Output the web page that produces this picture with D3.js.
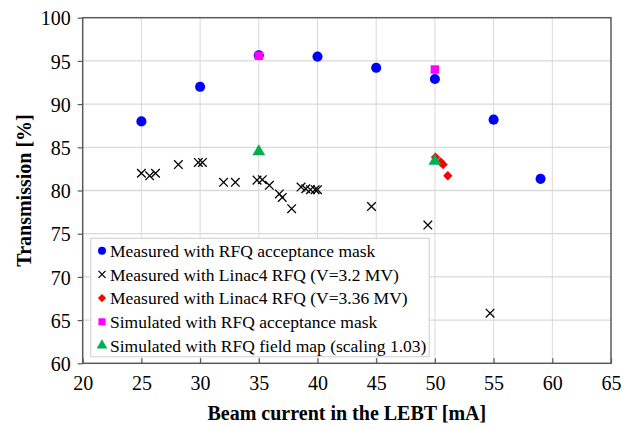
<!DOCTYPE html>
<html>
<head>
<meta charset="utf-8">
<script src="https://cdn.jsdelivr.net/npm/d3@7"></script>
<style>
  body { margin: 0; background: #fff; }
  svg { display: block; font-family: "Liberation Serif", "Times New Roman", serif; }
</style>
</head>
<body>
<div id="chart"></div>
<script>
// ── data ─────────────────────────────────────────────
const maskMeasured = [
  [25, 88.0], [30, 92.0], [35, 95.65], [40, 95.5], [45, 94.2],
  [50, 92.9], [55, 88.2], [59, 81.35]
];
const linac32 = [
  [25.0, 82.0], [25.7, 81.7], [26.2, 82.0], [28.15, 83.0], [29.85, 83.25], [30.2, 83.25],
  [32.0, 80.95], [33.0, 80.95], [34.85, 81.2], [35.3, 81.25], [35.9, 80.6],
  [36.75, 79.6], [37.0, 79.2], [37.8, 77.9], [38.6, 80.4], [39.0, 80.2],
  [39.4, 80.1], [39.8, 80.1], [40.0, 80.1], [44.6, 78.15], [49.4, 76.0], [54.7, 65.8]
];
const linac336 = [[50.05, 83.85], [50.5, 83.3], [50.7, 83.0], [51.1, 81.7]];
const maskSimulated = [[35, 95.6], [50, 94.0]];
const fieldMapSimulated = [[35, 84.5], [50, 83.4]];

const xTicks = [20, 25, 30, 35, 40, 45, 50, 55, 60, 65];
const yTicks = [60, 65, 70, 75, 80, 85, 90, 95, 100];

const legendLabels = [
  'Measured with RFQ acceptance mask',
  'Measured with Linac4 RFQ (V=3.2 MV)',
  'Measured with Linac4 RFQ (V=3.36 MV)',
  'Simulated with RFQ acceptance mask',
  'Simulated with RFQ field map (scaling 1.03)'
];

// ── layout ───────────────────────────────────────────
const W = 630, H = 429;
const m = { l: 82.7, r: 630 - 611, t: 17.7, b: 429 - 363.3 };
const pw = W - m.l - m.r, ph = H - m.t - m.b;

const svg = d3.select('#chart').append('svg').attr('width', W).attr('height', H);
const g = svg.append('g').attr('transform', `translate(${m.l},${m.t})`);

const x = d3.scaleLinear().domain([20, 65]).range([0, pw]);
const y = d3.scaleLinear().domain([60, 100]).range([ph, 0]);

// Grid
g.append('g').selectAll('line').data(xTicks.slice(1, -1)).join('line')
  .attr('x1', d => x(d)).attr('x2', d => x(d)).attr('y1', 0).attr('y2', ph)
  .attr('stroke', '#d9d9d9').attr('stroke-width', 1);
g.append('g').selectAll('line').data(yTicks.slice(1, -1)).join('line')
  .attr('y1', d => y(d)).attr('y2', d => y(d)).attr('x1', 0).attr('x2', pw)
  .attr('stroke', '#d9d9d9').attr('stroke-width', 1.3);

// Axes
const xAxis = g.append('g').attr('transform', `translate(0,${ph})`)
  .call(d3.axisBottom(x).tickValues(xTicks).tickSizeInner(-5).tickSizeOuter(0).tickPadding(13));
const yAxis = g.append('g')
  .call(d3.axisLeft(y).tickValues(yTicks).tickSizeInner(5).tickSizeOuter(0).tickPadding(7));
[xAxis, yAxis].forEach(a => {
  a.select('.domain').remove();
  a.selectAll('line').attr('stroke', '#595959').attr('stroke-width', 1.2);
  a.selectAll('text').attr('font-size', 20).attr('fill', '#000')
    .attr('font-family', '"Liberation Serif", serif');
});
yAxis.selectAll('text').attr('dy', '0.36em');

// Plot frame
g.append('rect').attr('width', pw).attr('height', ph)
  .attr('fill', 'none').attr('stroke', '#595959').attr('stroke-width', 1.5);

// Axis titles
svg.append('text')
  .attr('x', m.l + pw / 2).attr('y', 420)
  .attr('text-anchor', 'middle').attr('font-size', 20).attr('font-weight', 'bold')
  .text('Beam current in the LEBT [mA]');
svg.append('text')
  .attr('transform', `translate(31,${m.t + ph / 2}) rotate(-90)`)
  .attr('text-anchor', 'middle').attr('font-size', 20).attr('font-weight', 'bold')
  .text('Transmission [%]');

// Markers
const sym = (type, size) => d3.symbol().type(type).size(size)();
function cross(sel) {
  sel.append('path').attr('d', 'M-4.3,-4.3L4.3,4.3M-4.3,4.3L4.3,-4.3')
    .attr('stroke', '#000').attr('stroke-width', 1.3).attr('fill', 'none');
}
const pts = g.append('g');
const place = d => `translate(${x(d[0])},${y(d[1])})`;

pts.selectAll('.c32').data(linac32).join('g').attr('class', 'c32')
  .attr('transform', place).call(cross);
pts.selectAll('.blue').data(maskMeasured).join('path').attr('class', 'blue')
  .attr('transform', place).attr('d', sym(d3.symbolCircle, 80)).attr('fill', '#0000ff');
pts.selectAll('.mag').data(maskSimulated).join('path').attr('class', 'mag')
  .attr('transform', place).attr('d', sym(d3.symbolSquare, 72)).attr('fill', '#ff00ff');
pts.selectAll('.red').data(linac336).join('path').attr('class', 'red')
  .attr('d', sym(d3.symbolSquare, 44))
  .attr('fill', '#ff0000')
  .attr('transform', d => place(d) + ' rotate(45)');
pts.selectAll('.grn').data(fieldMapSimulated).join('path').attr('class', 'grn')
  .attr('transform', place).attr('d', sym(d3.symbolTriangle, 72)).attr('fill', '#00b050');

// Legend
const lg = svg.append('g');
lg.append('rect').attr('x', 90.7).attr('y', 238.3).attr('width', 429.3 - 90.7).attr('height', 356.7 - 238.3)
  .attr('fill', '#fff').attr('stroke', '#d9d9d9').attr('stroke-width', 1.3);
const ly = i => 250.7 + i * 23.7;
const lx = 102;
const legendMarkers = [
  s => s.append('path').attr('d', sym(d3.symbolCircle, 50)).attr('fill', '#0000ff'),
  s => s.append('path').attr('d', 'M-3.5,-3.5L3.5,3.5M-3.5,3.5L3.5,-3.5').attr('stroke', '#000').attr('stroke-width', 1.3),
  s => s.append('path').attr('d', sym(d3.symbolSquare, 34)).attr('fill', '#ff0000').attr('transform', 'rotate(45)'),
  s => s.append('path').attr('d', sym(d3.symbolSquare, 50)).attr('fill', '#ff00ff'),
  s => s.append('path').attr('d', sym(d3.symbolTriangle, 50)).attr('fill', '#00b050')
];
legendLabels.forEach((label, i) => {
  const row = lg.append('g');
  legendMarkers[i](row.append('g').attr('transform', `translate(${lx},${ly(i)})`));
  row.append('text').attr('x', 110).attr('y', ly(i)).attr('dy', '0.35em')
    .attr('font-size', 17.5).attr('fill', '#000').text(label);
});
</script>
</body>
</html>
